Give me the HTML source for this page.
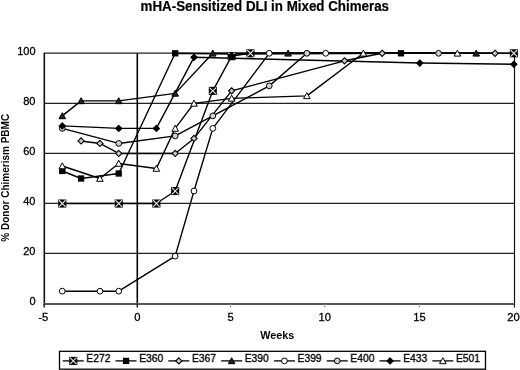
<!DOCTYPE html><html><head><meta charset="utf-8"><style>html,body{margin:0;padding:0;background:#fff;}svg{display:block;filter:grayscale(100%);}</style></head><body>
<svg width="520" height="370" viewBox="0 0 520 370" font-family="Liberation Sans, sans-serif">
<text transform="translate(264.8,10.75) scale(1,1.055)" x="0" y="0" font-size="13.35" font-weight="bold" text-anchor="middle" fill="#000" stroke="#000" stroke-width="0.2">mHA-Sensitized DLI in Mixed Chimeras</text>
<line x1="44" y1="253.40" x2="514.5" y2="253.40" stroke="#222" stroke-width="1.1"/>
<line x1="44" y1="203.40" x2="514.5" y2="203.40" stroke="#222" stroke-width="1.1"/>
<line x1="44" y1="153.40" x2="514.5" y2="153.40" stroke="#222" stroke-width="1.1"/>
<line x1="44" y1="103.40" x2="514.5" y2="103.40" stroke="#222" stroke-width="1.1"/>
<line x1="44" y1="53.15" x2="514.5" y2="53.15" stroke="#222" stroke-width="1.1"/>
<line x1="44.3" y1="52.90" x2="44.3" y2="305" stroke="#111" stroke-width="1.6"/>
<line x1="514.5" y1="52.90" x2="514.5" y2="305" stroke="#111" stroke-width="1.2"/>
<line x1="137.3" y1="53.40" x2="137.3" y2="305" stroke="#000" stroke-width="1.6"/>
<line x1="43.5" y1="304.1" x2="515" y2="304.1" stroke="#555" stroke-width="2"/>
<line x1="44.20" y1="304" x2="44.20" y2="307.5" stroke="#222" stroke-width="1.5"/>
<line x1="137.30" y1="304" x2="137.30" y2="307.5" stroke="#222" stroke-width="1.5"/>
<line x1="230.50" y1="304" x2="230.50" y2="307.5" stroke="#999" stroke-width="1.1"/>
<line x1="324.80" y1="304" x2="324.80" y2="307.5" stroke="#999" stroke-width="1.1"/>
<line x1="419.40" y1="304" x2="419.40" y2="307.5" stroke="#999" stroke-width="1.1"/>
<line x1="514.40" y1="304" x2="514.40" y2="307.5" stroke="#222" stroke-width="1.1"/>
<text x="35.5" y="304.70" font-size="11" text-anchor="end" fill="#000" stroke="#000" stroke-width="0.3">0</text>
<text x="35.5" y="254.70" font-size="11" text-anchor="end" fill="#000" stroke="#000" stroke-width="0.3">20</text>
<text x="35.5" y="204.70" font-size="11" text-anchor="end" fill="#000" stroke="#000" stroke-width="0.3">40</text>
<text x="35.5" y="154.70" font-size="11" text-anchor="end" fill="#000" stroke="#000" stroke-width="0.3">60</text>
<text x="35.5" y="104.70" font-size="11" text-anchor="end" fill="#000" stroke="#000" stroke-width="0.3">80</text>
<text x="35.5" y="54.70" font-size="11" text-anchor="end" fill="#000" stroke="#000" stroke-width="0.3">100</text>
<text x="43.30" y="320.8" font-size="11.2" text-anchor="middle" fill="#000" stroke="#000" stroke-width="0.3">-5</text>
<text x="137.30" y="320.8" font-size="11.2" text-anchor="middle" fill="#000" stroke="#000" stroke-width="0.3">0</text>
<text x="230.50" y="320.8" font-size="11.2" text-anchor="middle" fill="#000" stroke="#000" stroke-width="0.3">5</text>
<text x="324.80" y="320.8" font-size="11.2" text-anchor="middle" fill="#000" stroke="#000" stroke-width="0.3">10</text>
<text x="419.40" y="320.8" font-size="11.2" text-anchor="middle" fill="#000" stroke="#000" stroke-width="0.3">15</text>
<text x="513.50" y="320.8" font-size="11.2" text-anchor="middle" fill="#000" stroke="#000" stroke-width="0.3">20</text>
<text x="277.3" y="339.4" font-size="10.8" font-weight="bold" text-anchor="middle" fill="#000">Weeks</text>
<text transform="translate(8.5,177.8) rotate(-90)" x="0" y="0" font-size="10" font-weight="bold" text-anchor="middle" fill="#000">% Donor Chimerism PBMC</text>
<polyline points="62.29,203.54 118.74,203.54 156.37,203.54 175.18,191.02 212.81,90.86 231.62,56.05 250.44,53.30 513.85,53.30" fill="none" stroke="#000" stroke-width="1.4" stroke-linejoin="round"/>
<polyline points="62.29,170.99 81.11,178.50 118.74,173.49 175.18,53.30 231.62,53.93 400.96,53.30" fill="none" stroke="#000" stroke-width="1.4" stroke-linejoin="round"/>
<polyline points="81.11,140.94 99.92,143.44 118.74,153.46 175.18,153.46 194.00,138.44 231.62,90.86 344.51,60.81 382.15,53.30 495.04,53.30" fill="none" stroke="#000" stroke-width="1.4" stroke-linejoin="round"/>
<polyline points="62.29,115.90 81.11,100.88 118.74,100.88 175.18,93.36 212.81,53.30 288.07,53.30 476.22,53.30" fill="none" stroke="#000" stroke-width="1.4" stroke-linejoin="round"/>
<polyline points="62.29,291.18 99.92,291.18 118.74,291.18 175.18,256.12 194.00,191.02 212.81,128.42 269.25,53.30 325.70,53.30" fill="none" stroke="#000" stroke-width="1.4" stroke-linejoin="round"/>
<polyline points="62.29,128.42 118.74,143.44 175.18,135.93 212.81,115.90 269.25,85.85 306.88,53.30 438.59,53.30" fill="none" stroke="#000" stroke-width="1.4" stroke-linejoin="round"/>
<polyline points="62.29,125.92 118.74,128.42 156.37,128.42 194.00,57.31 419.78,63.07 513.85,64.32" fill="none" stroke="#000" stroke-width="1.4" stroke-linejoin="round"/>
<polyline points="62.29,165.98 99.92,178.50 118.74,163.48 156.37,168.48 175.18,128.42 194.00,103.38 231.62,98.37 306.88,95.87 363.33,53.30 457.41,53.30" fill="none" stroke="#000" stroke-width="1.4" stroke-linejoin="round"/>
<rect x="58.24" y="199.49" width="8.10" height="8.10" fill="#000"/><path d="M58.99 200.24L65.59 206.84M65.59 200.24L58.99 206.84" stroke="#e4e4e4" stroke-width="1.1"/>
<rect x="114.69" y="199.49" width="8.10" height="8.10" fill="#000"/><path d="M115.44 200.24L122.04 206.84M122.04 200.24L115.44 206.84" stroke="#e4e4e4" stroke-width="1.1"/>
<rect x="152.31" y="199.49" width="8.10" height="8.10" fill="#000"/><path d="M153.06 200.24L159.67 206.84M159.67 200.24L153.06 206.84" stroke="#e4e4e4" stroke-width="1.1"/>
<rect x="171.13" y="186.97" width="8.10" height="8.10" fill="#000"/><path d="M171.88 187.72L178.48 194.32M178.48 187.72L171.88 194.32" stroke="#e4e4e4" stroke-width="1.1"/>
<rect x="208.76" y="86.81" width="8.10" height="8.10" fill="#000"/><path d="M209.51 87.56L216.11 94.16M216.11 87.56L209.51 94.16" stroke="#e4e4e4" stroke-width="1.1"/>
<rect x="227.57" y="52.00" width="8.10" height="8.10" fill="#000"/><path d="M228.32 52.75L234.93 59.35M234.93 52.75L228.32 59.35" stroke="#e4e4e4" stroke-width="1.1"/>
<rect x="246.39" y="49.25" width="8.10" height="8.10" fill="#000"/><path d="M247.14 50.00L253.74 56.60M253.74 50.00L247.14 56.60" stroke="#e4e4e4" stroke-width="1.1"/>
<rect x="509.80" y="49.25" width="8.10" height="8.10" fill="#000"/><path d="M510.55 50.00L517.15 56.60M517.15 50.00L510.55 56.60" stroke="#e4e4e4" stroke-width="1.1"/>
<rect x="59.14" y="167.84" width="6.30" height="6.30" fill="#000"/>
<rect x="77.95" y="175.35" width="6.30" height="6.30" fill="#000"/>
<rect x="115.59" y="170.34" width="6.30" height="6.30" fill="#000"/>
<rect x="172.03" y="50.15" width="6.30" height="6.30" fill="#000"/>
<rect x="228.47" y="53.91" width="6.30" height="6.30" fill="#000"/>
<rect x="397.81" y="50.15" width="6.30" height="6.30" fill="#000"/>
<path d="M81.11 137.84L84.20 140.94L81.11 144.04L78.01 140.94Z" fill="#c8c8c8" stroke="#000" stroke-width="1.1"/>
<path d="M99.92 140.34L103.02 143.44L99.92 146.54L96.82 143.44Z" fill="#c8c8c8" stroke="#000" stroke-width="1.1"/>
<path d="M118.74 150.36L121.84 153.46L118.74 156.56L115.64 153.46Z" fill="#c8c8c8" stroke="#000" stroke-width="1.1"/>
<path d="M175.18 150.36L178.28 153.46L175.18 156.56L172.08 153.46Z" fill="#c8c8c8" stroke="#000" stroke-width="1.1"/>
<path d="M194.00 135.34L197.09 138.44L194.00 141.54L190.90 138.44Z" fill="#c8c8c8" stroke="#000" stroke-width="1.1"/>
<path d="M231.62 87.76L234.72 90.86L231.62 93.96L228.53 90.86Z" fill="#c8c8c8" stroke="#000" stroke-width="1.1"/>
<path d="M344.51 57.71L347.62 60.81L344.51 63.91L341.41 60.81Z" fill="#c8c8c8" stroke="#000" stroke-width="1.1"/>
<path d="M382.15 50.20L385.25 53.30L382.15 56.40L379.05 53.30Z" fill="#c8c8c8" stroke="#000" stroke-width="1.1"/>
<path d="M495.04 50.20L498.14 53.30L495.04 56.40L491.94 53.30Z" fill="#c8c8c8" stroke="#000" stroke-width="1.1"/>
<path d="M62.29 112.70L65.59 118.70L58.99 118.70Z" fill="#222" stroke="#000" stroke-width="1"/>
<path d="M81.11 97.68L84.41 103.68L77.81 103.68Z" fill="#222" stroke="#000" stroke-width="1"/>
<path d="M118.74 97.68L122.04 103.68L115.44 103.68Z" fill="#222" stroke="#000" stroke-width="1"/>
<path d="M175.18 90.16L178.48 96.16L171.88 96.16Z" fill="#222" stroke="#000" stroke-width="1"/>
<path d="M212.81 50.10L216.11 56.10L209.51 56.10Z" fill="#222" stroke="#000" stroke-width="1"/>
<path d="M288.07 50.10L291.37 56.10L284.77 56.10Z" fill="#222" stroke="#000" stroke-width="1"/>
<path d="M476.22 50.10L479.52 56.10L472.92 56.10Z" fill="#222" stroke="#000" stroke-width="1"/>
<circle cx="62.29" cy="291.18" r="2.9" fill="#fff" stroke="#000" stroke-width="1"/>
<circle cx="99.92" cy="291.18" r="2.9" fill="#fff" stroke="#000" stroke-width="1"/>
<circle cx="118.74" cy="291.18" r="2.9" fill="#fff" stroke="#000" stroke-width="1"/>
<circle cx="175.18" cy="256.12" r="2.9" fill="#fff" stroke="#000" stroke-width="1"/>
<circle cx="194.00" cy="191.02" r="2.9" fill="#fff" stroke="#000" stroke-width="1"/>
<circle cx="212.81" cy="128.42" r="2.9" fill="#fff" stroke="#000" stroke-width="1"/>
<circle cx="269.25" cy="53.30" r="2.9" fill="#fff" stroke="#000" stroke-width="1"/>
<circle cx="325.70" cy="53.30" r="2.9" fill="#fff" stroke="#000" stroke-width="1"/>
<circle cx="62.29" cy="128.42" r="2.9" fill="#d0d0d0" stroke="#000" stroke-width="1"/>
<circle cx="118.74" cy="143.44" r="2.9" fill="#d0d0d0" stroke="#000" stroke-width="1"/>
<circle cx="175.18" cy="135.93" r="2.9" fill="#d0d0d0" stroke="#000" stroke-width="1"/>
<circle cx="212.81" cy="115.90" r="2.9" fill="#d0d0d0" stroke="#000" stroke-width="1"/>
<circle cx="269.25" cy="85.85" r="2.9" fill="#d0d0d0" stroke="#000" stroke-width="1"/>
<circle cx="306.88" cy="53.30" r="2.9" fill="#d0d0d0" stroke="#000" stroke-width="1"/>
<circle cx="438.59" cy="53.30" r="2.9" fill="#d0d0d0" stroke="#000" stroke-width="1"/>
<path d="M62.29 122.82L65.39 125.92L62.29 129.02L59.19 125.92Z" fill="#000" stroke="#000" stroke-width="1.1"/>
<path d="M118.74 125.32L121.84 128.42L118.74 131.52L115.64 128.42Z" fill="#000" stroke="#000" stroke-width="1.1"/>
<path d="M156.37 125.32L159.47 128.42L156.37 131.52L153.27 128.42Z" fill="#000" stroke="#000" stroke-width="1.1"/>
<path d="M194.00 54.21L197.09 57.31L194.00 60.41L190.90 57.31Z" fill="#000" stroke="#000" stroke-width="1.1"/>
<path d="M419.78 59.97L422.88 63.07L419.78 66.17L416.68 63.07Z" fill="#000" stroke="#000" stroke-width="1.1"/>
<path d="M513.85 61.22L516.95 64.32L513.85 67.42L510.75 64.32Z" fill="#000" stroke="#000" stroke-width="1.1"/>
<path d="M62.29 162.78L65.59 168.78L58.99 168.78Z" fill="#fff" stroke="#000" stroke-width="1"/>
<path d="M99.92 175.30L103.22 181.30L96.62 181.30Z" fill="#fff" stroke="#000" stroke-width="1"/>
<path d="M118.74 160.28L122.04 166.28L115.44 166.28Z" fill="#fff" stroke="#000" stroke-width="1"/>
<path d="M156.37 165.28L159.67 171.28L153.06 171.28Z" fill="#fff" stroke="#000" stroke-width="1"/>
<path d="M175.18 125.22L178.48 131.22L171.88 131.22Z" fill="#fff" stroke="#000" stroke-width="1"/>
<path d="M194.00 100.18L197.30 106.18L190.69 106.18Z" fill="#fff" stroke="#000" stroke-width="1"/>
<path d="M231.62 95.17L234.93 101.17L228.32 101.17Z" fill="#fff" stroke="#000" stroke-width="1"/>
<path d="M306.88 92.67L310.19 98.67L303.58 98.67Z" fill="#fff" stroke="#000" stroke-width="1"/>
<path d="M363.33 50.10L366.63 56.10L360.03 56.10Z" fill="#fff" stroke="#000" stroke-width="1"/>
<path d="M457.41 50.10L460.71 56.10L454.11 56.10Z" fill="#fff" stroke="#000" stroke-width="1"/>
<rect x="59.5" y="351.3" width="426" height="17.9" fill="#fff" stroke="#000" stroke-width="1.3"/>
<line x1="62.75" y1="360.9" x2="83.75" y2="360.9" stroke="#000" stroke-width="1.3"/>
<rect x="69.20" y="356.85" width="8.10" height="8.10" fill="#000"/><path d="M69.95 357.60L76.55 364.20M76.55 357.60L69.95 364.20" stroke="#e4e4e4" stroke-width="1.1"/>
<text x="86.35" y="362" font-size="10.3" fill="#000" stroke="#000" stroke-width="0.3">E272</text>
<line x1="115.55" y1="360.9" x2="136.55" y2="360.9" stroke="#000" stroke-width="1.3"/>
<rect x="122.90" y="357.75" width="6.30" height="6.30" fill="#000"/>
<text x="139.15" y="362" font-size="10.3" fill="#000" stroke="#000" stroke-width="0.3">E360</text>
<line x1="168.35" y1="360.9" x2="189.35" y2="360.9" stroke="#000" stroke-width="1.3"/>
<path d="M178.85 357.80L181.95 360.90L178.85 364.00L175.75 360.90Z" fill="#c8c8c8" stroke="#000" stroke-width="1.1"/>
<text x="191.95" y="362" font-size="10.3" fill="#000" stroke="#000" stroke-width="0.3">E367</text>
<line x1="221.15" y1="360.9" x2="242.15" y2="360.9" stroke="#000" stroke-width="1.3"/>
<path d="M231.65 357.70L234.95 363.70L228.35 363.70Z" fill="#222" stroke="#000" stroke-width="1"/>
<text x="244.75" y="362" font-size="10.3" fill="#000" stroke="#000" stroke-width="0.3">E390</text>
<line x1="273.95" y1="360.9" x2="294.95" y2="360.9" stroke="#000" stroke-width="1.3"/>
<circle cx="284.45" cy="360.90" r="2.9" fill="#fff" stroke="#000" stroke-width="1"/>
<text x="297.55" y="362" font-size="10.3" fill="#000" stroke="#000" stroke-width="0.3">E399</text>
<line x1="326.75" y1="360.9" x2="347.75" y2="360.9" stroke="#000" stroke-width="1.3"/>
<circle cx="337.25" cy="360.90" r="2.9" fill="#d0d0d0" stroke="#000" stroke-width="1"/>
<text x="350.35" y="362" font-size="10.3" fill="#000" stroke="#000" stroke-width="0.3">E400</text>
<line x1="379.55" y1="360.9" x2="400.55" y2="360.9" stroke="#000" stroke-width="1.3"/>
<path d="M390.05 357.80L393.15 360.90L390.05 364.00L386.95 360.90Z" fill="#000" stroke="#000" stroke-width="1.1"/>
<text x="403.15" y="362" font-size="10.3" fill="#000" stroke="#000" stroke-width="0.3">E433</text>
<line x1="432.35" y1="360.9" x2="453.35" y2="360.9" stroke="#000" stroke-width="1.3"/>
<path d="M442.85 357.70L446.15 363.70L439.55 363.70Z" fill="#fff" stroke="#000" stroke-width="1"/>
<text x="455.95" y="362" font-size="10.3" fill="#000" stroke="#000" stroke-width="0.3">E501</text>
</svg></body></html>
